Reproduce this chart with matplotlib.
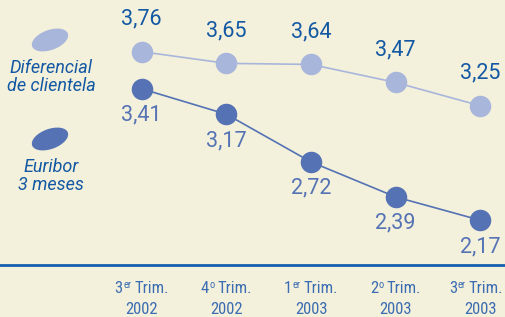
import matplotlib
matplotlib.use("Agg")
import matplotlib.pyplot as plt
from matplotlib.patches import Ellipse
from matplotlib import font_manager as fm

# ---- data ----
quarter_num = ["3", "4", "1", "2", "3"]
quarter_sup = ["er", "o", "er", "o", "er"]
quarter_word = "Trim."
years = ["2002", "2002", "2003", "2003", "2003"]
diferencial = [3.76, 3.65, 3.64, 3.47, 3.25]
euribor = [3.41, 3.17, 2.72, 2.39, 2.17]
series_names = ["Diferencial\nde clientela", "Euribor\n3 meses"]

BG = "#F3F0DC"
LIGHT = "#A9B6DB"
DARK = "#5472B4"
TXT_DARK = "#1258A3"
TICK_C = "#3C6DB2"
AXIS_C = "#1560B0"
NUMFONT = ["Roboto", "DejaVu Sans"]


def condensed_font():
    good = []
    for f in fm.fontManager.ttflist:
        nm = f.name.lower()
        fn = f.fname.lower()
        st = str(f.stretch).lower()
        cond = ("narrow" in nm or "condensed" in nm or "condensed" in fn
                or "narrow" in fn or st in ("condensed", "semi-condensed"))
        if not cond:
            continue
        if "mono" in nm or "serif" in nm or "serif" in fn.replace("sans", ""):
            continue
        if str(f.style) != "normal":
            continue
        w = f.weight
        if w not in (400, "normal", "regular", "book"):
            continue
        if "bold" in fn or "italic" in fn or "oblique" in fn or "light" in fn:
            continue
        good.append(f)
    for pref in ["liberation sans narrow", "roboto condensed", "dejavu sans",
                 "open sans", "noto sans"]:
        for f in good:
            if f.name.lower().startswith(pref):
                return f.fname
    return good[0].fname if good else None


cfile = condensed_font()
if cfile:
    TICKFP = dict(fontproperties=fm.FontProperties(fname=cfile, size=12))
    SUPFP = dict(fontproperties=fm.FontProperties(fname=cfile, size=7.5))
else:
    TICKFP = dict(family=NUMFONT, fontsize=11)
    SUPFP = dict(family=NUMFONT, fontsize=7)

W, H = 505, 317
fig = plt.figure(figsize=(W / 100, H / 100), dpi=100, facecolor=BG)
axis_px = 264.5
ax = fig.add_axes([0, (H - axis_px) / H, 1, axis_px / H])
ax.set_facecolor(BG)

x = list(range(len(diferencial)))
spacing = 84.65
x0 = 141.7
ax.set_xlim(-x0 / spacing, (W - x0) / spacing)
scale = 106.0
top_val = diferencial[0] + 51.7 / scale
bot_val = diferencial[0] - (axis_px - 51.7) / scale
ax.set_ylim(bot_val, top_val)

ax.plot(x, diferencial, color=LIGHT, lw=1.2, marker="o", ms=15.5,
        markerfacecolor=LIGHT, markeredgecolor="none", zorder=3)
ax.plot(x, euribor, color=DARK, lw=1.2, marker="o", ms=15.5,
        markerfacecolor=DARK, markeredgecolor="none", zorder=3)

for xi, v in zip(x, diferencial):
    ax.annotate(f"{v:.2f}".replace(".", ","), (xi, v), xytext=(0, 23.5),
                textcoords="offset points", ha="center", va="center",
                fontsize=15.5, color=TXT_DARK, family=NUMFONT)
for xi, v in zip(x, euribor):
    ax.annotate(f"{v:.2f}".replace(".", ","), (xi, v), xytext=(0, -19),
                textcoords="offset points", ha="center", va="center",
                fontsize=15.5, color=DARK, family=NUMFONT)

for s in ["top", "left", "right"]:
    ax.spines[s].set_visible(False)
ax.spines["bottom"].set_color(AXIS_C)
ax.spines["bottom"].set_linewidth(2)
ax.set_yticks([])
ax.set_xticks(x)
ax.set_xticklabels([])
ax.tick_params(axis="x", length=0)

# composed tick labels (number + superscript + word, year below)
renderer = fig.canvas.get_renderer()
base1 = -28.5   # pixels below axis line
base2 = -49.0
sup_raise = 5.5
gap = 3.5
for xi, n, sp, yr in zip(x, quarter_num, quarter_sup, years):
    kw = dict(xy=(xi, 0), xycoords=("data", "axes fraction"),
              textcoords="offset pixels", ha="left", va="baseline",
              color=TICK_C, annotation_clip=False)
    t1 = ax.annotate(n, xytext=(0, base1), **kw, **TICKFP)
    t2 = ax.annotate(sp, xytext=(0, base1 + sup_raise), **kw, **SUPFP)
    t3 = ax.annotate(quarter_word, xytext=(0, base1), **kw, **TICKFP)
    w1 = t1.get_window_extent(renderer).width
    w2 = t2.get_window_extent(renderer).width
    w3 = t3.get_window_extent(renderer).width
    total = w1 + w2 + gap + w3
    start = -total / 2
    cx = ax.transData.transform((xi, 0))[0]
    overflow = cx + start + total - (W - 2)
    if overflow > 0:
        start -= overflow
    t1.xyann = (start, base1)
    t2.xyann = (start + w1 + 0.3, base1 + sup_raise)
    t3.xyann = (start + w1 + w2 + gap, base1)
    ax.annotate(yr, xy=(xi, 0), xycoords=("data", "axes fraction"),
                xytext=(0, base2), textcoords="offset pixels", ha="center",
                va="baseline", color=TICK_C, annotation_clip=False, **TICKFP)

# legend
leg_items = [(series_names[0], LIGHT, 40, 77), (series_names[1], DARK, 139, 176)]
for name, col, ey, ty in leg_items:
    e = Ellipse((0.50, (H - ey) / 100), 0.38, 0.20, angle=20,
                transform=fig.dpi_scale_trans, facecolor=col, edgecolor="none")
    fig.add_artist(e)
    fig.text(51 / W, (H - ty) / H, name, ha="center", va="center",
             fontsize=13, style="italic", color=TXT_DARK, family=NUMFONT,
             linespacing=1.05)

fig.savefig("out.png", dpi=100, facecolor=BG)
